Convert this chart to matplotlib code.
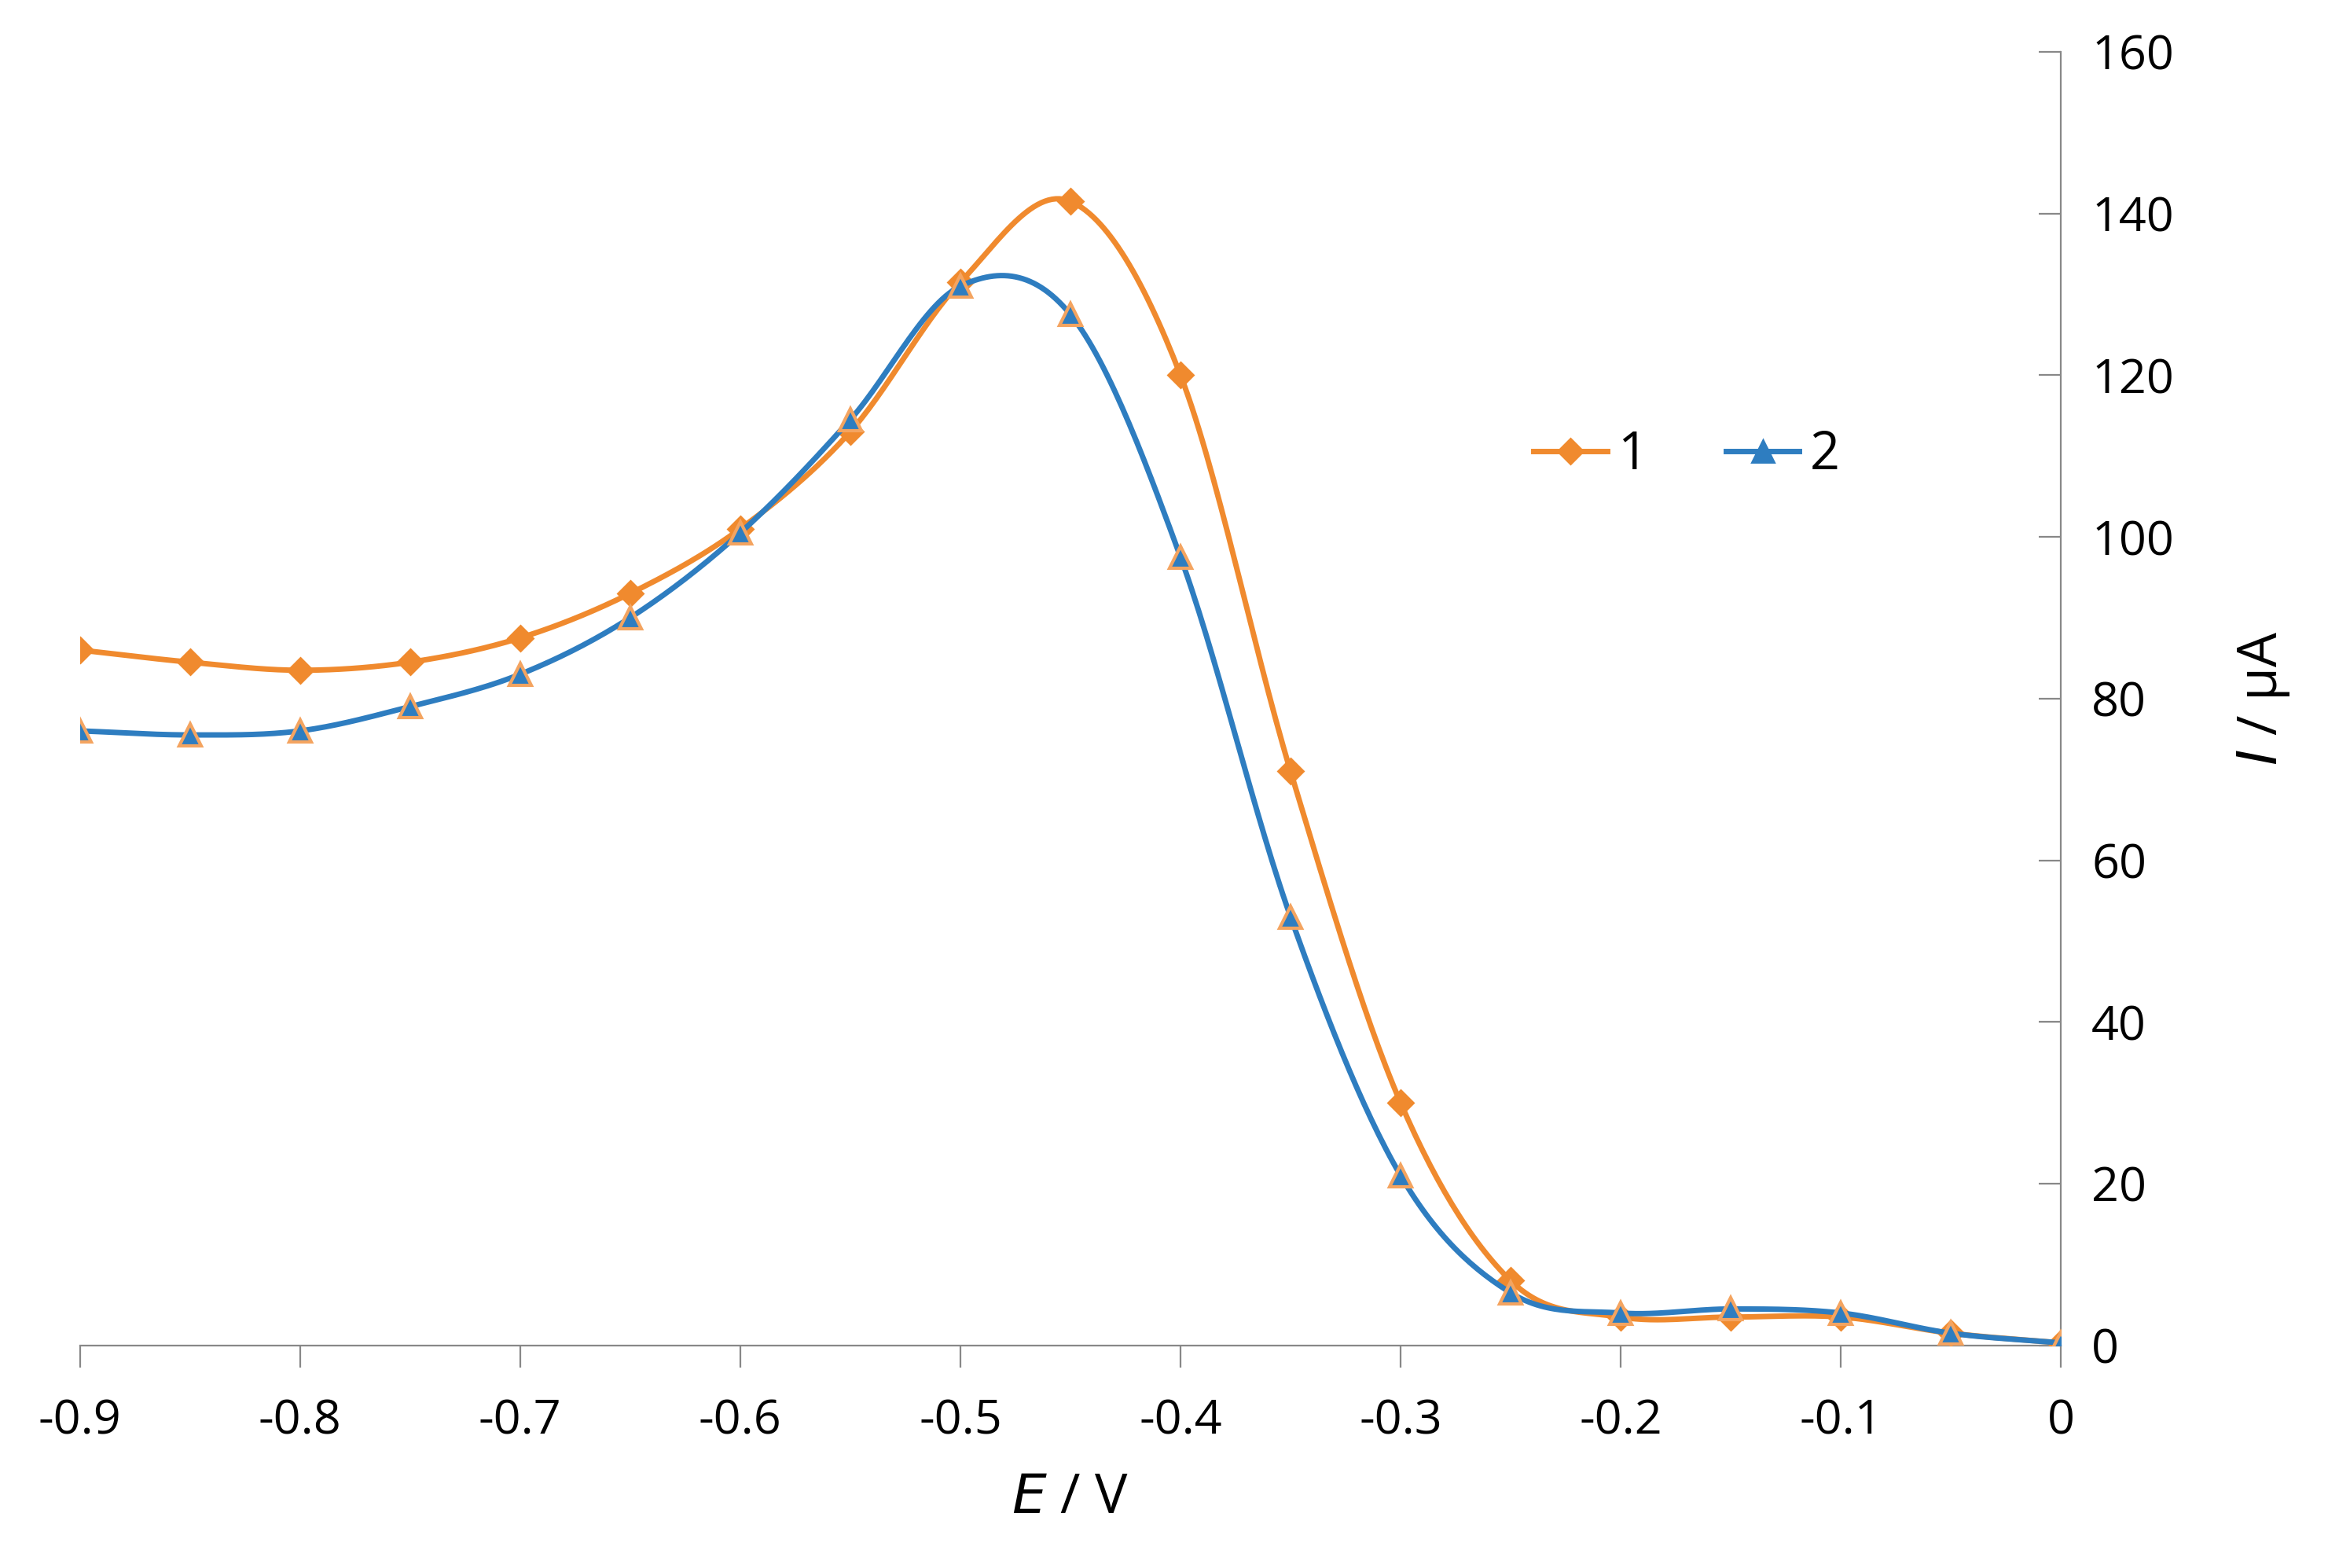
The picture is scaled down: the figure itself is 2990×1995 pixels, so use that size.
import numpy as np
import matplotlib
matplotlib.use("Agg")
import matplotlib.pyplot as plt

E = [-0.9,-0.85,-0.8,-0.75,-0.7,-0.65,-0.6,-0.55,-0.5,-0.45,-0.4,-0.35,-0.3,-0.25,-0.2,-0.15,-0.1,-0.05,0.0]
I1 = [86,84.5,83.5,84.5,87.5,93,101,113,131.5,141.5,120,71,30,8,3.5,3.5,3.5,1.5,0.3]
I2 = [76,75.5,76,79,83,90,100.5,114.5,131,127.5,97.5,53,21,6.5,4,4.5,4,1.5,0.3]

def smooth(x, y, n=30):
    x = np.asarray(x, float); y = np.asarray(y, float)
    px = np.concatenate([[2*x[0]-x[1]], x, [2*x[-1]-x[-2]]])
    py = np.concatenate([[2*y[0]-y[1]], y, [2*y[-1]-y[-2]]])
    xs, ys = [], []
    t = np.linspace(0, 1, n, endpoint=False)
    for i in range(1, len(px)-2):
        for arr, out in ((px, xs), (py, ys)):
            p0, p1, p2, p3 = arr[i-1], arr[i], arr[i+1], arr[i+2]
            out.extend(0.5*((2*p1) + (-p0+p2)*t + (2*p0-5*p1+4*p2-p3)*t**2 + (-p0+3*p1-3*p2+p3)*t**3))
    xs.append(x[-1]); ys.append(y[-1])
    return np.array(xs), np.array(ys)

plt.rcParams['font.family'] = ['Open Sans', 'DejaVu Sans']
fig = plt.figure(figsize=(14.95, 9.975), dpi=200)
ax = fig.add_axes([0.034, 0.142, 0.843, 0.825])
orange = '#F08A2E'; blue = '#2E7DC0'
sx, sy = smooth(E, I1)
ax.plot(sx, sy, color=orange, lw=2.5, zorder=2)
ax.plot(E, I1, ls='none', marker='D', ms=8, color=orange, zorder=3)
sx, sy = smooth(E, I2)
ax.plot(sx, sy, color=blue, lw=2.5, zorder=4)
ax.plot(E, I2, ls='none', marker='^', ms=10, mfc=blue, mec='#F4A460', mew=1.5, zorder=5)
ax.plot([], [], color=orange, lw=2.5, marker='D', ms=8, label='1')
ax.plot([], [], color=blue, lw=2.5, marker='^', ms=10, mfc=blue, mec=blue, label='2')
ax.legend(loc='upper left', bbox_to_anchor=(0.71, 0.745), ncol=2, frameon=False,
          fontsize=24, handlelength=1.4, handletextpad=0.2, columnspacing=1.5)

ax.set_xlim(-0.9, 0); ax.set_ylim(0, 160)
for s in ['top', 'left']:
    ax.spines[s].set_visible(False)
ax.spines['right'].set_color('#888888'); ax.spines['bottom'].set_color('#888888')
ax.yaxis.tick_right(); ax.yaxis.set_label_position('right')
ax.set_xticks(np.arange(-0.9, 0.01, 0.1))
ax.set_xticklabels(['-0.9','-0.8','-0.7','-0.6','-0.5','-0.4','-0.3','-0.2','-0.1','0'])
ax.set_yticks(range(0, 161, 20))
ax.tick_params(axis='x', direction='out', length=10, color='#888888', labelsize=22, pad=14)
ax.tick_params(axis='y', direction='in', length=10, color='#888888', labelsize=22, pad=14)
ax.set_xlabel('$\\it{E}$ / V', fontsize=25, labelpad=12)
ax.set_ylabel('$\\it{I}$ / µA', fontsize=25, labelpad=28)
fig.savefig('out.png', dpi=200)
